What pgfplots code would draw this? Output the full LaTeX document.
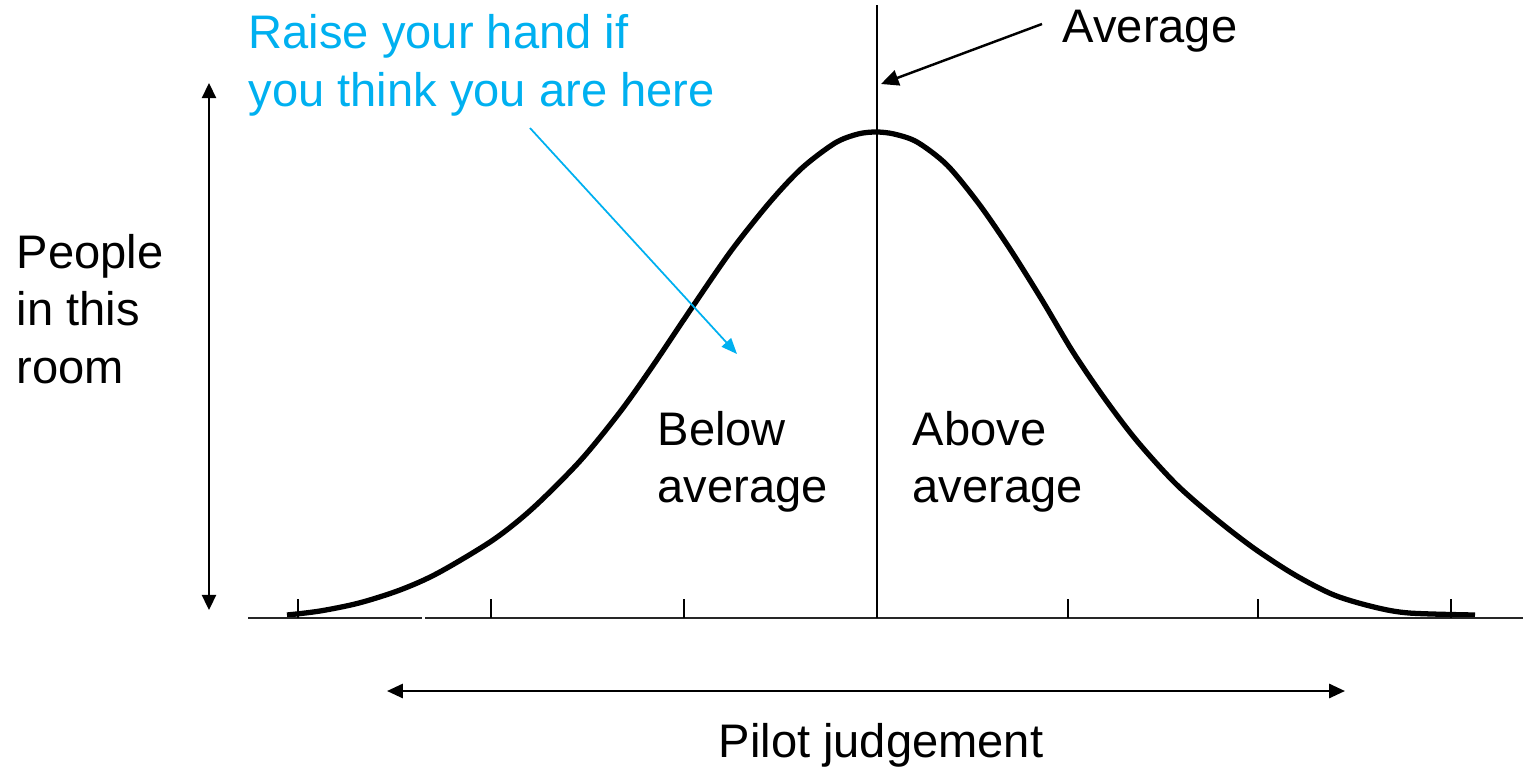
\documentclass[border=0pt]{standalone}
\usepackage{pgfplots}
\pgfplotsset{compat=1.18}
\usetikzlibrary{arrows.meta}
\usepackage{fontspec}
\setmainfont{Liberation Sans}
\definecolor{hlblue}{RGB}{0,176,240}
\newcommand{\fs}{\fontsize{13.4pt}{16pt}\selectfont}
\begin{document}
\begin{tikzpicture}
\begin{axis}[hide axis, scale only axis, width=152.3mm, height=76.7mm,
  xmin=0, xmax=1523, ymin=0, ymax=767, y dir=reverse, clip=false]
% bell curve (pixel coordinates of the reference, y measured downwards)
\addplot[black, line width=1.5pt, smooth, tension=0.5] coordinates {
(287,615) (320,611) (359,603) (400,590) (438,573) (493,540) (533,508)
(580,461) (620,412) (652,367) (691,309) (731,251) (770,202) (802,168)
(835,143) (858,134) (876,132) (894,134) (917,142) (947,165) (979,204)
(1010,249) (1042,300)
(1073,352) (1105,399) (1137,441) (1176,484) (1216,519) (1255,549)
(1295,575) (1334,595) (1374,607) (1409,613) (1475,615)};
% baseline
\addplot[black!85, line width=0.8pt] coordinates {(248,618) (422,618)};
\addplot[black!85, line width=0.8pt] coordinates {(425,618) (1523,618)};
% ticks
\pgfplotsinvokeforeach{298,491,684,877,1068,1258,1451}{
  \draw[black, line width=0.8pt] (axis cs:#1,599) -- (axis cs:#1,618);
}
% average line
\draw[black, line width=0.45pt] (axis cs:877,5) -- (axis cs:877,618);
% arrows
\draw[black, line width=0.7pt, -{Triangle[length=5pt,width=4.5pt]}] (axis cs:1042,24) -- (axis cs:881,84);
\draw[hlblue, line width=0.5pt, -{Triangle[length=4.5pt,width=3.6pt]}] (axis cs:530,128) -- (axis cs:737,354);
\draw[black, line width=0.7pt, {Triangle[length=4.3pt,width=4pt]}-{Triangle[length=4.3pt,width=4pt]}] (axis cs:209,83) -- (axis cs:209,610);
\draw[black, line width=0.7pt, {Triangle[length=4.5pt,width=4pt]}-{Triangle[length=4.5pt,width=4pt]}] (axis cs:387,691) -- (axis cs:1345,691);
% texts
\node[anchor=base west, inner sep=0, font=\fs, text=hlblue] at (axis cs:248,48) {Raise your hand if};
\node[anchor=base west, inner sep=0, font=\fs, text=hlblue] at (axis cs:248,106) {you think you are here};
\node[anchor=base west, inner sep=0, font=\fs] at (axis cs:1062,42) {Average};
\node[anchor=base west, inner sep=0, font=\fs] at (axis cs:16,268) {People};
\node[anchor=base west, inner sep=0, font=\fs] at (axis cs:16,325) {in this};
\node[anchor=base west, inner sep=0, font=\fs] at (axis cs:16,383) {room};
\node[anchor=base west, inner sep=0, font=\fs] at (axis cs:657,445) {Below};
\node[anchor=base west, inner sep=0, font=\fs] at (axis cs:657,502) {average};
\node[anchor=base west, inner sep=0, font=\fs] at (axis cs:912,445) {Above};
\node[anchor=base west, inner sep=0, font=\fs] at (axis cs:912,502) {average};
\node[anchor=base west, inner sep=0, font=\fs] at (axis cs:718,757) {Pilot judgement};
\end{axis}
\pgfresetboundingbox
\path (0,0) rectangle (152.3mm,76.7mm);
\end{tikzpicture}
\end{document}
